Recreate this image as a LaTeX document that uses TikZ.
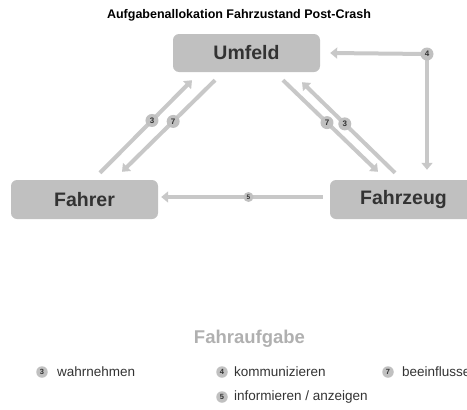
\documentclass[tikz,border=0pt]{standalone}
\usepackage{fontspec}
\setmainfont{Liberation Sans}
\usetikzlibrary{arrows.meta,calc}
\definecolor{boxgray}{HTML}{C0C0C0}
\definecolor{linegray}{HTML}{C8C8C8}
\definecolor{textdark}{HTML}{333333}
\definecolor{titlegray}{HTML}{B0B0B0}
\tikzset{
  actor/.style={draw=none, fill=boxgray, rounded corners=6pt, minimum width=147pt,
    minimum height=39pt, inner sep=0pt, text=textdark,
    font=\fontsize{19.5}{21}\selectfont\bfseries},
  flow/.style={draw=linegray, line width=4pt,
    -{Triangle[width=11pt,length=7pt]}},
  badge/.style={circle, fill=boxgray, inner sep=0pt, minimum size=13pt, text=textdark,
    font=\fontsize{8}{8}\selectfont\bfseries},
  smallbadge/.style={badge, minimum size=10pt, font=\fontsize{6.5}{6.5}\selectfont\bfseries},
  keybadge/.style={circle, fill=boxgray, inner sep=0pt, minimum size=11.5pt, text=textdark,
    font=\fontsize{7.5}{7.5}\selectfont\bfseries},
  keytext/.style={anchor=west, inner sep=0pt, text=textdark,
    font=\fontsize{13.5}{14}\selectfont},
}
\begin{document}
\begin{tikzpicture}[x=1pt,y=-1pt]
  \useasboundingbox (0,0) rectangle (467,410);
  \clip (0,0) rectangle (467,410);

  % title
  \node[font=\fontsize{12.5}{13}\selectfont\bfseries] (title) at (239,15) {Aufgabenallokation Fahrzustand Post-Crash};

  % actors
  \node[actor, minimum height=38pt] (umfeld) at (246.5,53) {Umfeld};
  \node[actor] (fahrer) at (84.5,199.5) {Fahrer};
  \node[actor] (fahrzeug) at (403.5,199.5) {Fahrzeug};

  % Fahrer <-> Umfeld
  \draw[flow] ([xshift=15.5pt,yshift=7pt]fahrer.north) -- ([xshift=-54.5pt,yshift=-8pt]umfeld.south)
    node[badge, pos=0.565] (l3a) {3};
  \draw[flow] ([xshift=-31.5pt,yshift=-8pt]umfeld.south) -- ([xshift=37.5pt,yshift=8pt]fahrer.north)
    node[badge, pos=0.45] (l7a) {7};

  % Umfeld <-> Fahrzeug
  \draw[flow] ([xshift=36.5pt,yshift=-8pt]umfeld.south) -- ([xshift=-25.5pt,yshift=8pt]fahrzeug.north)
    node[badge, pos=0.463] (l7b) {7};
  \draw[flow] ([xshift=-8.5pt,yshift=7pt]fahrzeug.north) -- ([xshift=55.5pt,yshift=-10pt]umfeld.south)
    node[badge, pos=0.54] (l3b) {3};

  % communication from the corner
  \coordinate (c4) at (427,54);
  \draw[flow] (c4) -- ([xshift=10pt]umfeld.east);
  \draw[flow] (c4) -- ([xshift=23.5pt,yshift=10pt]fahrzeug.north);
  \node[badge] (l4) at (c4) {4};

  % Fahrzeug -> Fahrer
  \draw[flow] ([xshift=-7pt,yshift=2.5pt]fahrzeug.west) -- ([xshift=3pt,yshift=2.5pt]fahrer.east)
    node[smallbadge, pos=0.46] (l5) {5};

  % legend
  \node[text=titlegray, font=\fontsize{18.5}{19}\selectfont\bfseries] (legtitle) at (249.5,339) {Fahraufgabe};
  \node[keybadge] (k3) at (42,372) {3};
  \node[keytext] (t3) at (57,372) {wahrnehmen};
  \node[keybadge] (k4) at (222,372) {4};
  \node[keytext] (t4) at (234,372) {kommunizieren};
  \node[keybadge] (k7) at (388,372) {7};
  \node[keytext] (t7) at (402,372) {beeinflussen};
  \node[keybadge] (k5) at (222,397) {5};
  \node[keytext] (t5) at (234,397) {informieren / anzeigen};
\end{tikzpicture}
\end{document}
